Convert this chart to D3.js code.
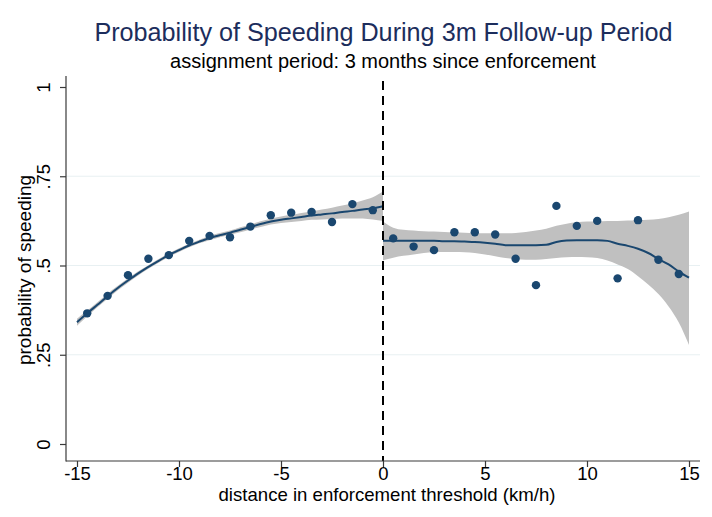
<!DOCTYPE html>
<html>
<head>
<meta charset="utf-8">
<script src="https://cdn.jsdelivr.net/npm/d3@7"></script>
<style>
  html, body { margin: 0; padding: 0; background: #ffffff; }
  svg { display: block; font-family: "Liberation Sans", Arial, sans-serif; }
</style>
</head>
<body>
<svg id="chart" width="712" height="517"></svg>
<script>
// ---------- data ----------
const titleText = "Probability of Speeding During 3m Follow-up Period";
const subtitleText = "assignment period: 3 months since enforcement";
const xTitle = "distance in enforcement threshold (km/h)";
const yTitle = "probability of speeding";

const xTicks = [-15, -10, -5, 0, 5, 10, 15];
const yTicks = [0, 0.25, 0.5, 0.75, 1];
const yTickLabels = ["0", ".25", ".5", ".75", "1"];
const gridValues = [0.25, 0.5, 0.75];

// binned means (scatter)
const binsLeft = [-14.5, -13.5, -12.5, -11.5, -10.5, -9.5, -8.5, -7.5, -6.5, -5.5, -4.5, -3.5, -2.5, -1.5, -0.5];
const speedLeft = [0.366, 0.415, 0.473, 0.519, 0.529, 0.569, 0.583, 0.579, 0.609, 0.641, 0.648, 0.650, 0.622, 0.672, 0.655];
const binsRight = [0.5, 1.5, 2.5, 3.5, 4.5, 5.5, 6.5, 7.5, 8.5, 9.5, 10.5, 11.5, 12.5, 13.5, 14.5];
const speedRight = [0.576, 0.553, 0.543, 0.593, 0.593, 0.587, 0.519, 0.445, 0.667, 0.611, 0.625, 0.464, 0.627, 0.516, 0.476];

// local polynomial fit + CI, left of threshold
const fitXLeft = [-15, -14.5, -14, -13.5, -13, -12.5, -12, -11.5, -11, -10.5, -10, -9.5, -9, -8.5, -8, -7.5, -7, -6.5, -6, -5.5, -5, -4.5, -4, -3.5, -3, -2.5, -2, -1.5, -1, -0.5, 0];
const fitLeft = [0.341, 0.366, 0.390, 0.414, 0.437, 0.458, 0.478, 0.496, 0.513, 0.529, 0.543, 0.556, 0.567, 0.577, 0.585, 0.592, 0.600, 0.608, 0.616, 0.623, 0.628, 0.632, 0.636, 0.640, 0.643, 0.646, 0.650, 0.653, 0.657, 0.660, 0.666];
const ciLoLeft = [0.331, 0.358, 0.383, 0.407, 0.431, 0.452, 0.472, 0.491, 0.508, 0.524, 0.538, 0.551, 0.562, 0.571, 0.579, 0.586, 0.593, 0.601, 0.608, 0.615, 0.619, 0.622, 0.625, 0.628, 0.629, 0.630, 0.632, 0.632, 0.632, 0.629, 0.625];
const ciHiLeft = [0.351, 0.374, 0.397, 0.421, 0.443, 0.464, 0.484, 0.501, 0.518, 0.534, 0.548, 0.561, 0.572, 0.583, 0.591, 0.598, 0.607, 0.615, 0.624, 0.631, 0.637, 0.642, 0.647, 0.652, 0.657, 0.662, 0.668, 0.674, 0.682, 0.691, 0.707];

// local polynomial fit + CI, right of threshold
const fitXRight = [0, 0.5, 1, 1.5, 2, 2.5, 3, 3.5, 4, 4.5, 5, 5.5, 6, 6.5, 7, 7.5, 8, 8.5, 9, 9.5, 10, 10.5, 11, 11.5, 12, 12.5, 13, 13.5, 14, 14.5, 15];
const fitRight = [0.569, 0.569, 0.569, 0.569, 0.569, 0.569, 0.568, 0.568, 0.567, 0.566, 0.564, 0.561, 0.557, 0.557, 0.557, 0.557, 0.558, 0.566, 0.570, 0.571, 0.571, 0.571, 0.569, 0.561, 0.555, 0.547, 0.535, 0.518, 0.503, 0.483, 0.466];
const ciLoRight = [0.515, 0.522, 0.527, 0.531, 0.535, 0.537, 0.538, 0.538, 0.537, 0.535, 0.531, 0.526, 0.521, 0.518, 0.516, 0.516, 0.518, 0.521, 0.523, 0.524, 0.523, 0.521, 0.514, 0.503, 0.490, 0.470, 0.447, 0.420, 0.385, 0.340, 0.277];
const ciHiRight = [0.623, 0.606, 0.600, 0.598, 0.596, 0.595, 0.594, 0.593, 0.592, 0.591, 0.590, 0.590, 0.590, 0.591, 0.594, 0.598, 0.603, 0.611, 0.617, 0.621, 0.623, 0.624, 0.625, 0.625, 0.626, 0.627, 0.628, 0.630, 0.635, 0.642, 0.651];

const cutoff = 0;

// ---------- drawing ----------
const svg = d3.select("#chart");
const navy = "#1a476f";
const axisColor = "#3a3a3a";

const plot = { left: 66, right: 700, top: 76, bottom: 461 };
const x = d3.scaleLinear().domain([-15, 15]).range([77, 689]);
const y = d3.scaleLinear().domain([0, 1]).range([444, 87]);

// titles
svg.append("text").attr("x", 383.5).attr("y", 41)
  .attr("text-anchor", "middle").attr("font-size", 25.2).attr("fill", "#1c2d5c")
  .text(titleText);
svg.append("text").attr("x", 383).attr("y", 68)
  .attr("text-anchor", "middle").attr("font-size", 20).attr("fill", "#000")
  .text(subtitleText);

// gridlines
svg.append("g").selectAll("line").data(gridValues).join("line")
  .attr("x1", plot.left).attr("x2", plot.right)
  .attr("y1", d => y(d)).attr("y2", d => y(d))
  .attr("stroke", "#e8f0f2").attr("stroke-width", 1.2);

// CI bands
function band(xs, lo, hi) {
  const pts = xs.map((v, i) => ({ x: v, lo: lo[i], hi: hi[i] }));
  const area = d3.area().x(d => x(d.x)).y0(d => y(d.lo)).y1(d => y(d.hi)).curve(d3.curveMonotoneX);
  svg.append("path").datum(pts).attr("d", area).attr("fill", "#c0c0c0").attr("stroke", "none");
}
band(fitXLeft, ciLoLeft, ciHiLeft);
band(fitXRight, ciLoRight, ciHiRight);

// fit lines
function fitLine(xs, ys) {
  const pts = xs.map((v, i) => ({ x: v, y: ys[i] }));
  const line = d3.line().x(d => x(d.x)).y(d => y(d.y)).curve(d3.curveMonotoneX);
  svg.append("path").datum(pts).attr("d", line).attr("fill", "none")
    .attr("stroke", navy).attr("stroke-width", 2);
}
fitLine(fitXLeft, fitLeft);
fitLine(fitXRight, fitRight);

// scatter
function scatter(xs, ys) {
  svg.append("g").selectAll("circle").data(xs.map((v, i) => ({ x: v, y: ys[i] }))).join("circle")
    .attr("cx", d => x(d.x)).attr("cy", d => y(d.y)).attr("r", 4.2).attr("fill", navy);
}
scatter(binsLeft, speedLeft);
scatter(binsRight, speedRight);

// cutoff dashed line
svg.append("line")
  .attr("x1", x(cutoff)).attr("x2", x(cutoff))
  .attr("y1", 81).attr("y2", plot.bottom)
  .attr("stroke", "#000").attr("stroke-width", 2).attr("stroke-dasharray", "9,6");

// axes lines
svg.append("line").attr("x1", plot.left).attr("x2", plot.left)
  .attr("y1", plot.top).attr("y2", plot.bottom + 0.5)
  .attr("stroke", axisColor).attr("stroke-width", 1.2);
svg.append("line").attr("x1", plot.left).attr("x2", plot.right)
  .attr("y1", plot.bottom).attr("y2", plot.bottom)
  .attr("stroke", axisColor).attr("stroke-width", 1.2);

// x axis
const gx = svg.append("g").attr("transform", `translate(0,${plot.bottom})`)
  .call(d3.axisBottom(x).tickValues(xTicks).tickSize(6).tickFormat(d3.format("d")));
gx.select(".domain").remove();
gx.selectAll(".tick line").attr("stroke", axisColor).attr("stroke-width", 1.2);
gx.selectAll(".tick text").attr("y", 19).attr("dy", 0)
  .attr("font-size", 18.5).attr("fill", "#000")
  .attr("font-family", "Liberation Sans, Arial, sans-serif")
  .text(d => d < 0 ? "-" + Math.abs(d) : String(d));

// y axis
const gy = svg.append("g").attr("transform", `translate(${plot.left},0)`)
  .call(d3.axisLeft(y).tickValues(yTicks).tickSize(6).tickFormat((d, i) => yTickLabels[i]));
gy.select(".domain").remove();
gy.selectAll(".tick line").attr("stroke", axisColor).attr("stroke-width", 1.2);
gy.selectAll(".tick text")
  .attr("transform", "rotate(-90)")
  .attr("x", 0).attr("y", -16).attr("dy", 0)
  .attr("text-anchor", "middle")
  .attr("font-size", 18.5).attr("fill", "#000")
  .attr("font-family", "Liberation Sans, Arial, sans-serif");

// axis titles
svg.append("text").attr("x", 387).attr("y", 501)
  .attr("text-anchor", "middle").attr("font-size", 18.6).attr("fill", "#000")
  .text(xTitle);
svg.append("text").attr("transform", "translate(31,270) rotate(-90)")
  .attr("text-anchor", "middle").attr("font-size", 19).attr("fill", "#000")
  .text(yTitle);
</script>
</body>
</html>
